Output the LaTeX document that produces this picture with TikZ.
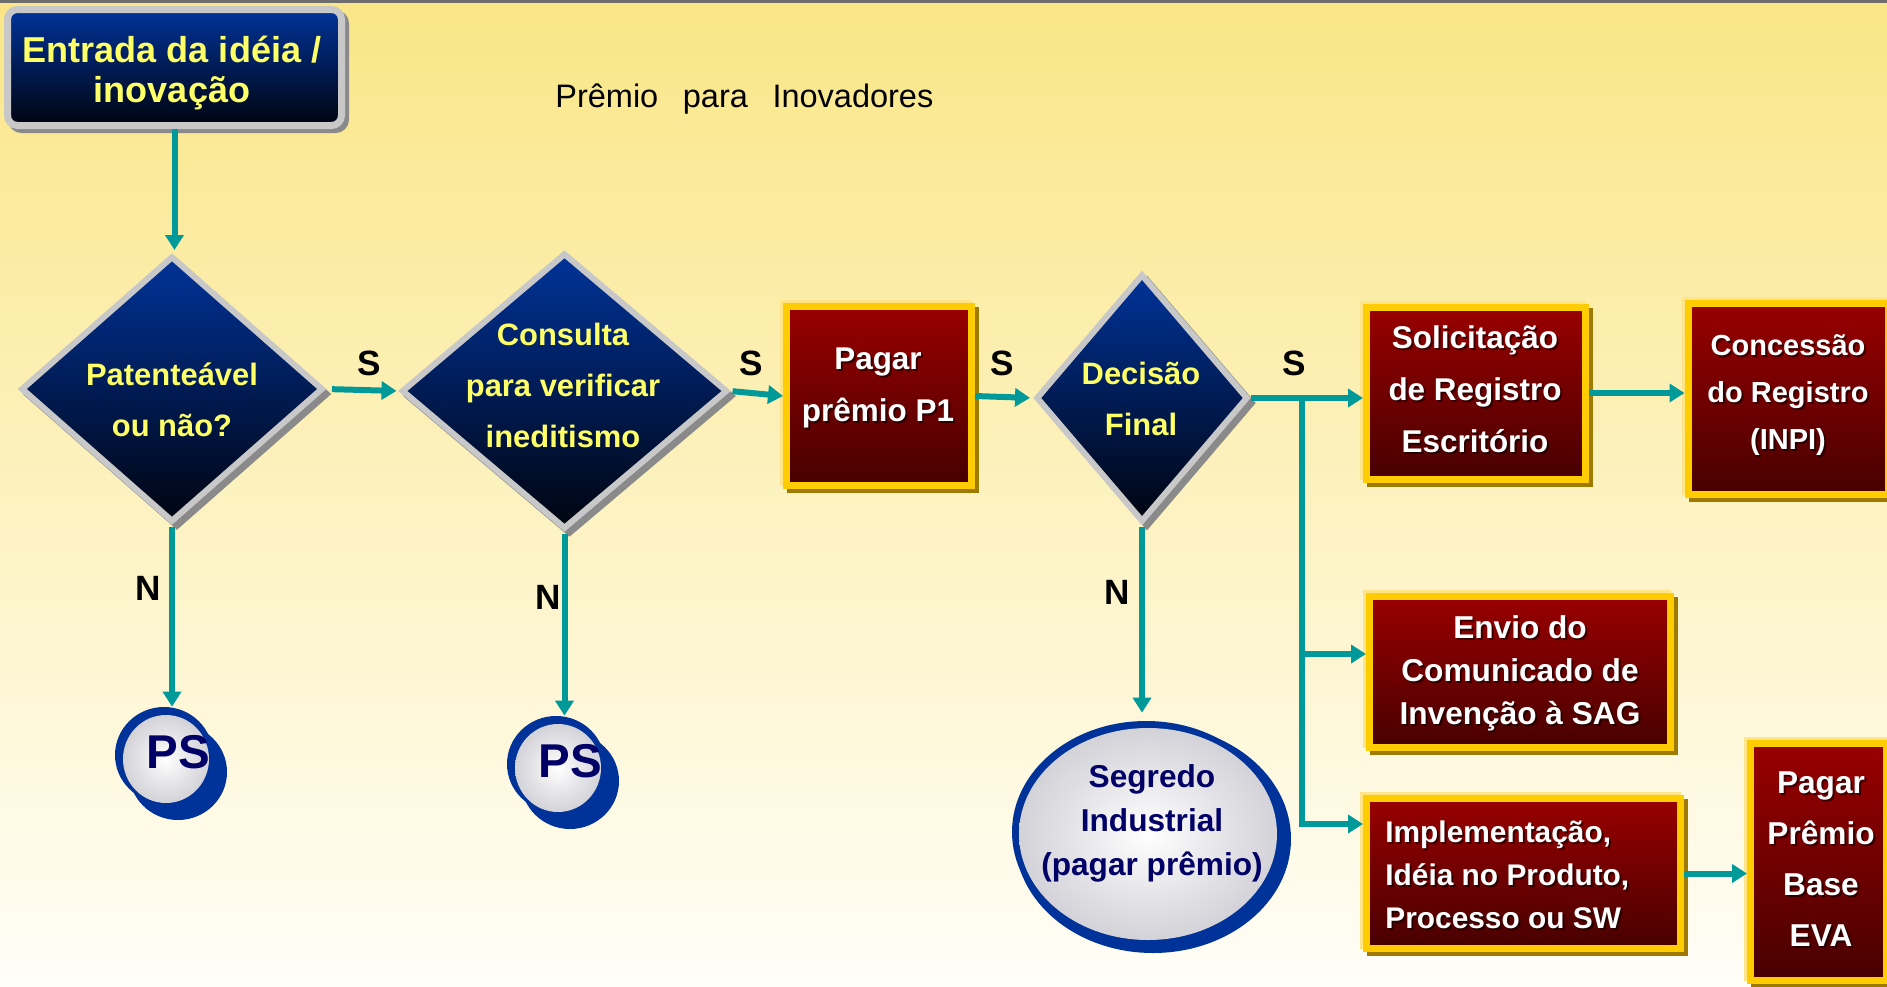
\documentclass[tikz,border=0pt]{standalone}
\usepackage{fontspec}
\setmainfont{Liberation Sans}
\usetikzlibrary{arrows.meta,shapes.geometric,calc}
\newdimen\px \px=0.02cm
\definecolor{bgtop}{HTML}{FAE687}
\definecolor{bgbot}{HTML}{FFFEF8}
\definecolor{arrteal}{HTML}{009999}
\definecolor{dblue}{HTML}{003399}
\definecolor{dblack}{HTML}{00040F}
\definecolor{ylw}{HTML}{FFFF66}
\definecolor{rtop}{HTML}{990000}
\definecolor{rbot}{HTML}{470000}
\definecolor{gold}{HTML}{FFCC00}
\definecolor{goldsh}{HTML}{9E7B00}
\definecolor{goldhalo}{HTML}{FFE588}
\definecolor{gborder}{HTML}{C8C8C8}
\definecolor{gshadow}{HTML}{8A8A8A}
\definecolor{navy}{HTML}{000066}
\definecolor{ring}{HTML}{003399}
\definecolor{inshade}{HTML}{D2D2D8}
\definecolor{topline}{HTML}{6E6E6E}
\newcommand\rbox[5]{%
  \node[rboxhalo, minimum width=#4\px, minimum height=#5\px] (#1-halo) at ([shift={(-3,-3)}]#2,#3) {};
  \node[rboxsh, minimum width=#4\px, minimum height=#5\px] (#1-sh) at ([shift={(4,4)}]#2,#3) {};
  \node[rboxmain, minimum width=#4\px, minimum height=#5\px] (#1) at (#2,#3) {};
}
\newcommand\stext[5]{%
  \node[wshadow, font=\bfseries#4] (#1-ts) at ([shift={(2,2)}]#2,#3) {#5};
  \node[wtext, font=\bfseries#4] (#1) at (#2,#3) {#5};
}
\begin{document}
\begin{tikzpicture}[x=0.02cm,y=-0.02cm,
  arr/.style={draw=arrteal, line width=0.12cm, -{Triangle[length=0.3cm,width=0.36cm]}},
  ln/.style={draw=arrteal, line width=0.12cm},
  lbl/.style={font=\bfseries\fontsize{20pt}{20pt}\selectfont, text=black, inner sep=0pt},
  diamain/.style={diamond, inner sep=0pt, draw=gborder, line width=6\px, top color=dblue, bottom color=dblack},
  diash/.style={diamond, inner sep=0pt, draw=gshadow, fill=gshadow, line width=6\px},
  ytext/.style={text=ylw, align=center, inner sep=0pt},
  rboxmain/.style={rectangle, draw=gold, line width=7\px, top color=rtop, bottom color=rbot, inner sep=0pt},
  rboxsh/.style={rectangle, draw=goldsh, fill=goldsh, line width=7\px, inner sep=0pt},
  rboxhalo/.style={rectangle, draw=goldhalo, line width=7\px, inner sep=0pt},
  wtext/.style={text=white, align=center, inner sep=0pt},
  wshadow/.style={text=black, text opacity=0.55, align=center, inner sep=0pt},
  ringell/.style={ellipse, fill=ring, inner sep=0pt},
  inell/.style={ellipse, inner sep=0pt, inner color=white, outer color=inshade},
  ntext/.style={text=navy, align=center, inner sep=0pt}
]
\useasboundingbox (0,0) rectangle (1887,987);
\fill[top color=bgtop, bottom color=bgbot] (0,0) rectangle (1887,987);
\fill[topline] (0,0) rectangle (1887,3);

% title
\node[anchor=base west, inner sep=0pt, font=\fontsize{18.5pt}{18.5pt}\selectfont] (title) at (555,107) {Prêmio\hspace{14pt}para\hspace{14pt}Inovadores};

% entrada
\node[rectangle, rounded corners=10\px, draw=gshadow, fill=gshadow, line width=7\px, minimum width=334\px, minimum height=116\px, inner sep=0pt] (ent-sh) at (178.5,71.5) {};
\node[rectangle, rounded corners=10\px, draw=gborder, line width=7\px, top color=dblue, bottom color=dblack, minimum width=334\px, minimum height=116\px, inner sep=0pt] (ent) at (174.5,67.5) {};
\node[ytext, font=\bfseries\fontsize{20.5pt}{22.5pt}\selectfont] (ent-t) at (172,73) {Entrada da idéia /\\inovação};

% diamonds
\node[diash, minimum width=302\px, minimum height=266\px] (d1-sh) at (177,394) {};
\node[diamain, minimum width=302\px, minimum height=266\px] (d1) at (172,389) {};
\node[ytext, font=\bfseries\fontsize{17.6pt}{29pt}\selectfont] (d1-t) at (172,400) {Patenteável\\ou não?};

\node[diash, minimum width=326\px, minimum height=276\px] (d2-sh) at (569.5,396) {};
\node[diamain, minimum width=326\px, minimum height=276\px] (d2) at (564.5,391) {};
\node[ytext, font=\bfseries\fontsize{17.6pt}{29pt}\selectfont] (d2-t) at (563,385) {Consulta\\para verificar\\ineditismo};

\node[diash, minimum width=212\px, minimum height=248\px] (d3-sh) at (1147,403) {};
\node[diamain, minimum width=212\px, minimum height=248\px] (d3) at (1142,398) {};
\node[ytext, font=\bfseries\fontsize{17.6pt}{29pt}\selectfont] (d3-t) at (1141,399) {Decisão\\Final};

% red boxes
\rbox{pag}{879}{396}{185}{179}
\stext{pag-t}{878}{388}{\fontsize{17.9pt}{29.5pt}\selectfont}{Pagar\\prêmio P1}
\rbox{sol}{1476}{393}{219}{172}
\stext{sol-t}{1475}{389}{\fontsize{17.9pt}{29.5pt}\selectfont}{Solicitação\\de Registro\\Escritório}
\rbox{conc}{1788}{399}{200}{191}
\stext{conc-t}{1788}{395}{\fontsize{16.5pt}{27pt}\selectfont}{Concessão\\do Registro\\(INPI)}
\rbox{env}{1520}{672}{301}{151}
\stext{env-t}{1520}{673}{\fontsize{18pt}{24.4pt}\selectfont}{Envio do\\Comunicado de\\Invenção à SAG}
\rbox{impl}{1523.5}{873.5}{314}{150}
\node[wshadow, align=left, anchor=west, font=\bfseries\fontsize{17pt}{24.4pt}\selectfont] (impl-ts) at (1387,877) {Implementação,\\Idéia no Produto,\\Processo ou SW};
\node[wtext, align=left, anchor=west, font=\bfseries\fontsize{17pt}{24.4pt}\selectfont] (impl-t) at (1385,875) {Implementação,\\Idéia no Produto,\\Processo ou SW};
\rbox{eva}{1818.5}{862}{136}{237}
\stext{eva-t}{1821}{859}{\fontsize{18pt}{29pt}\selectfont}{Pagar\\Prêmio\\Base\\EVA}

% PS circles
\node[ringell, minimum width=98\px, minimum height=96\px] (ps1-sh) at (178,772) {};
\node[ringell, minimum width=98\px, minimum height=96\px] (ps1) at (164,755) {};
\node[inell, minimum width=86\px, minimum height=88\px] (ps1-in) at (166,759) {};
\node[ntext, font=\bfseries\fontsize{27pt}{27pt}\selectfont] (ps1-t) at (178,752) {PS};

\node[ringell, minimum width=98\px, minimum height=96\px] (ps2-sh) at (570,781) {};
\node[ringell, minimum width=98\px, minimum height=96\px] (ps2) at (556,764) {};
\node[inell, minimum width=86\px, minimum height=88\px] (ps2-in) at (558,768) {};
\node[ntext, font=\bfseries\fontsize{27pt}{27pt}\selectfont] (ps2-t) at (570,761) {PS};

% Segredo
\node[ringell, minimum width=276\px, minimum height=228\px] (seg-sh) at (1153,839) {};
\node[ringell, minimum width=268\px, minimum height=222\px] (seg) at (1146,832) {};
\node[inell, minimum width=258\px, minimum height=212\px] (seg-in) at (1148,834) {};
\node[ntext, font=\bfseries\fontsize{18pt}{25pt}\selectfont] (seg-t) at (1152,823) {Segredo\\Industrial\\(pagar prêmio)};

% connectors
\draw[arr, shorten >=0.06cm] (ent) -- (ent.south |- d1.north);
\draw[arr, shorten <=0.12cm, shorten >=0.04cm] (d1.east) -- (d2.west);
\draw[arr, shorten <=0.04cm] (d2.east) -- (pag.west);
\draw[arr, shorten >=0.06cm] (pag.east) -- (d3.west);
\draw[arr] (d3.east) -- (d3.east -| sol.west);
\draw[arr] (sol.east) -- (sol.east -| conc.west);
\draw[arr] (impl.east) -- (impl.east -| eva.west);
\coordinate (tr) at (1302,398);
\coordinate (j1) at (1302,654);
\coordinate (j2) at (1302,824);
\draw[arr] (tr) -- (j2) -- (j2 -| impl.west);
\draw[arr] (j1) -- (j1 -| env.west);
\draw[arr, shorten <=0.04cm] (d1.south) -- (d1.south |- ps1.north);
\draw[arr, shorten <=0.04cm] (d2.south) -- (d2.south |- ps2.north);
\draw[arr, shorten <=0.04cm, shorten >=0.16cm] (d3.south) -- (d3.south |- seg.north);

% labels
\node[lbl] (s1) at (369,363) {S};
\node[lbl] (s2) at (751,363) {S};
\node[lbl] (s3) at (1002,363) {S};
\node[lbl] (s4) at (1294,363) {S};
\node[lbl] (n1) at (148,588) {N};
\node[lbl] (n2) at (548,597) {N};
\node[lbl] (n3) at (1117,592) {N};
\end{tikzpicture}
\end{document}
